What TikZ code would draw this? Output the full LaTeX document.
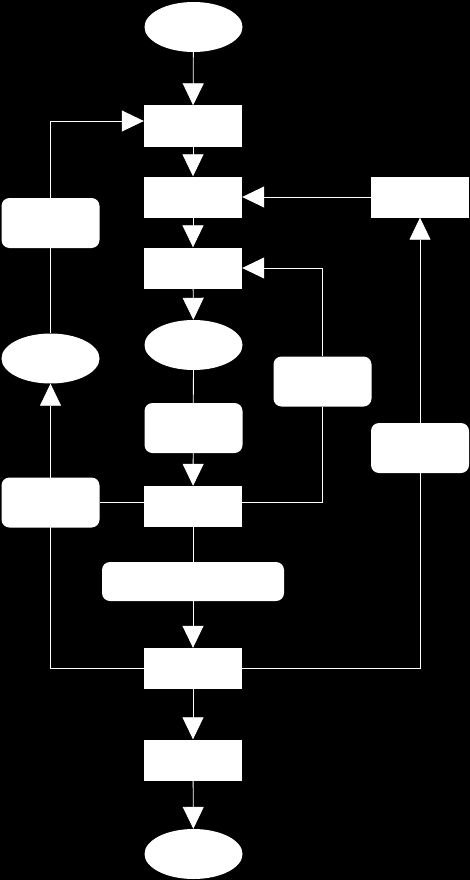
\documentclass[tikz,border=0pt]{standalone}
\usetikzlibrary{shapes.geometric,arrows.meta}
\begin{document}
\begin{tikzpicture}[x=1pt,y=-1pt,
 box/.style={rectangle,fill=white,minimum width=98pt,minimum height=41pt,inner sep=0pt},
 rbox/.style={rectangle,rounded corners=8pt,fill=white,minimum width=98pt,minimum height=50pt,inner sep=0pt},
 oval/.style={ellipse,fill=white,minimum width=98pt,minimum height=50pt,inner sep=0pt},
 conn/.style={draw=white,line width=0.8pt},
 arr/.style={conn,-{Triangle[width=21pt,length=22pt,fill=white]}}]
\fill[black] (0,0) rectangle (470,880);
\useasboundingbox (0,0) rectangle (470,880);
% nodes
\node[oval] (start) at (193.5,27) {};
\node[box] (r1) at (193,126) {};
\node[box] (r2) at (193,197) {};
\node[box] (r3) at (193,268) {};
\node[oval] (e2) at (193.5,345) {};
\node[rbox] (lb1) at (193.5,428) {};
\node[box] (r4) at (193,506.5) {};
\node[rbox,minimum width=182pt,minimum height=39pt] (lb2) at (193,581.5) {};
\node[box] (r5) at (193,668.5) {};
\node[box] (r6) at (193,760) {};
\node[oval] (stop) at (193.5,854) {};
\node[box] (rr) at (420,197) {};
\node[rbox] (lbR) at (322.5,381.5) {};
\node[rbox] (lbRR) at (420,448) {};
\node[rbox] (lbL1) at (50.5,223) {};
\node[oval] (eL) at (50.5,358.5) {};
\node[rbox] (lbL2) at (50.5,502.5) {};
\coordinate (t) at (0,121);
\coordinate (m) at (0,502);
% connectors
\draw[arr] (start) -- (r1);
\draw[arr] (r1) -- (r2);
\draw[arr] (r2) -- (r3);
\draw[arr] (r3) -- (e2);
\draw[arr] (e2) -- (r4);
\draw[arr] (r4) -- (r5);
\draw[arr] (r5) -- (r6);
\draw[arr] (r6) -- (stop);
\draw[arr] (r4.east |- m) -| (lbR.south) (lbR.north) |- (r3.east);
\draw[arr] (r5.east) -| (rr.south);
\draw[arr] (rr.west) -- (r2.east);
\draw[arr] (r5.west) -| (eL.south);
\draw[conn] (r4.west |- m) -- (lbL2.east |- m);
\draw[arr] (eL.north) |- (r1.west |- t);
\end{tikzpicture}
\end{document}
